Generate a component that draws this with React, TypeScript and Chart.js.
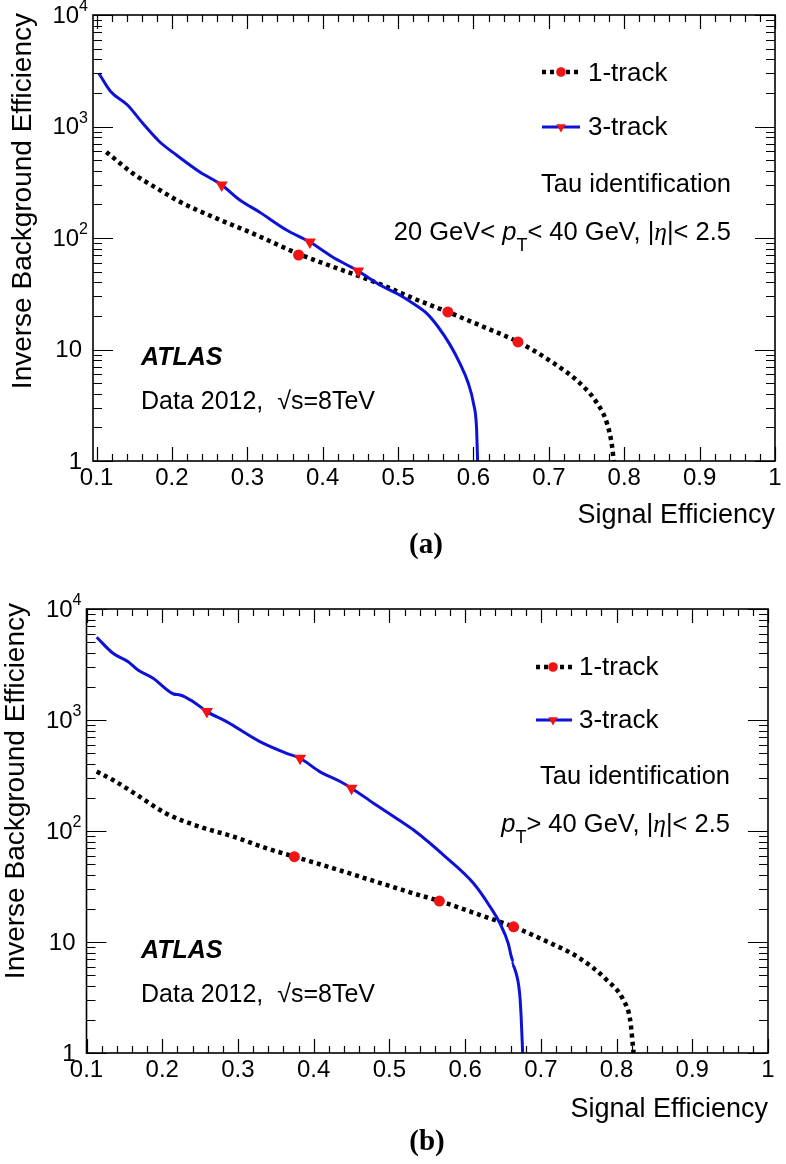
import React, { useEffect, useRef } from 'react';
import { Chart, registerables } from 'chart.js';

Chart.register(...registerables);

const SANS = '"Liberation Sans", Arial, Helvetica, sans-serif';
const SERIF = '"Liberation Serif", "Times New Roman", serif';
const RED = '#f01414';
const BLUE = '#0d12d6';

// ---------------- Panel (a): 20 GeV < pT < 40 GeV ----------------
const sigEffA1 = [0.113, 0.121, 0.148, 0.180, 0.210, 0.259, 0.307, 0.368, 0.413, 0.458, 0.485, 0.520, 0.566, 0.613, 0.659, 0.706, 0.741, 0.764, 0.777, 0.784, 0.786];
const invBkgA1 = [590, 533, 380, 279, 212, 150, 110, 72, 55.4, 43, 36.5, 28.8, 21.7, 16.0, 11.7, 7.57, 5.0, 3.3, 2.19, 1.34, 1.0];
const sigEffA3 = [0.103, 0.119, 0.141, 0.161, 0.184, 0.206, 0.237, 0.266, 0.290, 0.316, 0.352, 0.383, 0.413, 0.447, 0.476, 0.502, 0.520, 0.538, 0.553, 0.569, 0.582, 0.593, 0.600, 0.604, 0.6055];
const invBkgA3 = [3000, 2050, 1560, 1075, 726, 555, 391, 299, 219, 171, 118, 92, 67.6, 50.6, 37.9, 30.8, 25.9, 21.1, 16.0, 11.0, 7.5, 5.0, 3.3, 2.03, 1.0];
const markA1X = [0.368, 0.566, 0.659];
const markA1Y = [70.4, 21.7, 11.7];
const markA3X = [0.266, 0.383, 0.447];
const markA3Y = [299, 92, 50.6];

// ---------------- Panel (b): pT > 40 GeV ----------------
const sigEffB1 = [0.1135, 0.135, 0.170, 0.205, 0.250, 0.294, 0.338, 0.3745, 0.426, 0.479, 0.510, 0.531, 0.566, 0.620, 0.664, 0.708, 0.752, 0.787, 0.809, 0.818, 0.8225];
const invBkgB1 = [343, 288, 204, 144, 109, 89, 69.8, 58.7, 46.1, 35.5, 30.5, 27.5, 23.4, 17.5, 13.7, 10.1, 7.1, 4.55, 3.0, 1.98, 1.0];
const sigEffB3 = [0.1135, 0.135, 0.155, 0.168, 0.188, 0.215, 0.2235, 0.241, 0.259, 0.285, 0.329, 0.364, 0.382, 0.408, 0.435, 0.450, 0.479, 0.512, 0.532, 0.576, 0.611, 0.633, 0.646, 0.657, 0.661, 0.664, 0.662, 0.666, 0.672, 0.674, 0.676];
const invBkgB3 = [5560, 3990, 3350, 2820, 2375, 1715, 1680, 1462, 1190, 966, 638, 501, 452, 343, 279, 243, 178, 126, 102, 57, 33.8, 20.8, 14.7, 9.7, 7.4, 6.6, 6.2, 5.6, 3.45, 2.12, 1.0];
const markB1X = [0.3745, 0.566, 0.664];
const markB1Y = [58.7, 23.4, 13.7];
const markB3X = [0.259, 0.382, 0.450];
const markB3Y = [1190, 452, 243];

// ---------------- Axes ----------------
const xTickValues = [0.1, 0.2, 0.3, 0.4, 0.5, 0.6, 0.7, 0.8, 0.9, 1.0];
const xTickLabels = ['0.1', '0.2', '0.3', '0.4', '0.5', '0.6', '0.7', '0.8', '0.9', '1'];
const yTickValues = [1, 10, 100, 1000, 10000];
const yTickBase = ['1', '10', '10', '10', '10'];
const yTickExp = ['', '', '2', '3', '4'];
const legendLabels = ['1-track', '3-track'];
const xTitle = 'Signal Efficiency';
const yTitle = 'Inverse Background Efficiency';

type Seg = { t: string; s?: 'i' | 'sub' | 'g' };

const kinA: Seg[] = [{ t: '20 GeV< ' }, { t: 'p', s: 'i' }, { t: 'T', s: 'sub' }, { t: '< 40 GeV, |' }, { t: 'η', s: 'g' }, { t: '|< 2.5' }];
const kinB: Seg[] = [{ t: 'p', s: 'i' }, { t: 'T', s: 'sub' }, { t: '> 40 GeV, |' }, { t: 'η', s: 'g' }, { t: '|< 2.5' }];

interface PanelCfg {
  top: number;
  xMin: number;
  padRight: number;
  padTop: number;
  yAxisWidth: number;
  xAxisHeight: number;
  oneX: number[]; oneY: number[];
  threeX: number[]; threeY: number[];
  mk1X: number[]; mk1Y: number[];
  mk3X: number[]; mk3Y: number[];
  legX0: number; legX1: number; legXm: number; legTextX: number;
  legSymY: number[]; legBase: number[];
  textRight: number; tauBase: number; kinBase: number; kin: Seg[];
  atlasX: number; atlasBase: number; dataBase: number;
  xTitleBase: number; yTitleX: number; yTitleEnd: number;
  letter: string; letterX: number; letterBase: number;
}

const panelA: PanelCfg = {
  top: 0, xMin: 0.0953, padRight: 11, padTop: 15, yAxisWidth: 93, xAxisHeight: 121,
  oneX: sigEffA1, oneY: invBkgA1, threeX: sigEffA3, threeY: invBkgA3,
  mk1X: markA1X, mk1Y: markA1Y, mk3X: markA3X, mk3Y: markA3Y,
  legX0: 542, legX1: 580, legXm: 561, legTextX: 588, legSymY: [72, 127], legBase: [81, 135],
  textRight: 731, tauBase: 192, kinBase: 240, kin: kinA,
  atlasX: 141, atlasBase: 365, dataBase: 409,
  xTitleBase: 523, yTitleX: 31, yTitleEnd: 13,
  letter: '(a)', letterX: 426, letterBase: 553,
};

const panelB: PanelCfg = {
  top: 582, xMin: 0.1, padRight: 18, padTop: 27, yAxisWidth: 86.5, xAxisHeight: 111,
  oneX: sigEffB1, oneY: invBkgB1, threeX: sigEffB3, threeY: invBkgB3,
  mk1X: markB1X, mk1Y: markB1Y, mk3X: markB3X, mk3Y: markB3Y,
  legX0: 536, legX1: 572, legXm: 553, legTextX: 579, legSymY: [85, 138], legBase: [93, 146],
  textRight: 730, tauBase: 202, kinBase: 250, kin: kinB,
  atlasX: 141, atlasBase: 376, dataBase: 420,
  xTitleBase: 535, yTitleX: 24, yTitleEnd: 21,
  letter: '(b)', letterX: 427, letterBase: 568,
};

function drawSegs(ctx: CanvasRenderingContext2D, segs: Seg[], x: number, y: number, size: number) {
  const font = (s?: string) =>
    s === 'i' ? `italic ${size}px ${SANS}` :
    s === 'g' ? `italic ${size}px ${SERIF}` :
    s === 'sub' ? `${Math.round(size * 0.72)}px ${SANS}` : `${size}px ${SANS}`;
  const widths = segs.map((sg) => { ctx.font = font(sg.s); return ctx.measureText(sg.t).width; });
  const total = widths.reduce((a, b) => a + b, 0);
  let cx = x - total;
  ctx.textAlign = 'left';
  ctx.textBaseline = 'alphabetic';
  segs.forEach((sg, i) => {
    ctx.font = font(sg.s);
    ctx.fillText(sg.t, cx, sg.s === 'sub' ? y + size * 0.42 : y);
    cx += widths[i];
  });
}

function downTriangle(ctx: CanvasRenderingContext2D, x: number, y: number, r: number) {
  ctx.beginPath();
  ctx.moveTo(x, y + r);
  ctx.lineTo(x - r * 0.866, y - r * 0.5);
  ctx.lineTo(x + r * 0.866, y - r * 0.5);
  ctx.closePath();
  ctx.fill();
}

function decorPlugin(cfg: PanelCfg) {
  return {
    id: 'decor',
    afterDraw(chart: any) {
      const ctx: CanvasRenderingContext2D = chart.ctx;
      const a = chart.chartArea;
      const xs = chart.scales.x;
      const ys = chart.scales.y;
      ctx.save();
      ctx.strokeStyle = '#000';
      ctx.fillStyle = '#000';
      ctx.setLineDash([]);
      // frame
      ctx.lineWidth = 1.6;
      ctx.strokeRect(a.left, a.top, a.right - a.left, a.bottom - a.top);
      // x ticks (bottom and top)
      ctx.lineWidth = 1.2;
      ctx.beginPath();
      for (let i = 0; i <= 50; i++) {
        const v = i * 0.02;
        if (v < xs.min - 1e-9 || v > xs.max + 1e-9) continue;
        const px = Math.round(xs.getPixelForValue(v)) + 0.5;
        const len = i % 5 === 0 ? 14 : 7;
        ctx.moveTo(px, a.bottom); ctx.lineTo(px, a.bottom - len);
        ctx.moveTo(px, a.top); ctx.lineTo(px, a.top + len);
      }
      // y ticks (left and right)
      for (let d = 0; d <= 4; d++) {
        for (let m = 1; m <= 9; m++) {
          const v = m * Math.pow(10, d);
          if (v > 10000) break;
          const py = Math.round(ys.getPixelForValue(v)) + 0.5;
          const len = m === 1 ? 20 : 9;
          ctx.moveTo(a.left, py); ctx.lineTo(a.left + len, py);
          ctx.moveTo(a.right, py); ctx.lineTo(a.right - len, py);
        }
      }
      ctx.stroke();

      // y tick labels
      ctx.textBaseline = 'middle';
      yTickValues.forEach((v, i) => {
        const py = ys.getPixelForValue(v) + 1;
        if (yTickExp[i]) {
          ctx.font = `16px ${SANS}`;
          const ew = ctx.measureText(yTickExp[i]).width;
          const right = a.left - 5;
          ctx.textAlign = 'left';
          ctx.fillText(yTickExp[i], right - ew, py - 9);
          ctx.font = `24px ${SANS}`;
          ctx.textAlign = 'right';
          ctx.fillText(yTickBase[i], right - ew, py);
        } else {
          ctx.font = `24px ${SANS}`;
          ctx.textAlign = 'right';
          ctx.fillText(yTickBase[i], a.left - 11, py);
        }
      });

      // axis titles
      ctx.textBaseline = 'alphabetic';
      ctx.font = `27px ${SANS}`;
      ctx.textAlign = 'right';
      ctx.fillText(xTitle, a.right, cfg.xTitleBase);
      ctx.save();
      ctx.translate(cfg.yTitleX, cfg.yTitleEnd);
      ctx.rotate(-Math.PI / 2);
      ctx.font = `28px ${SANS}`;
      ctx.textAlign = 'right';
      ctx.fillText(yTitle, 0, 0);
      ctx.restore();

      // legend
      const y1 = cfg.legSymY[0];
      ctx.strokeStyle = '#000';
      ctx.lineWidth = 4.5;
      ctx.setLineDash([4, 4]);
      ctx.beginPath(); ctx.moveTo(cfg.legX0, y1); ctx.lineTo(cfg.legX1, y1); ctx.stroke();
      ctx.setLineDash([]);
      ctx.fillStyle = RED;
      ctx.beginPath(); ctx.arc(cfg.legXm, y1, 4.8, 0, Math.PI * 2); ctx.fill();
      const y3 = cfg.legSymY[1];
      ctx.strokeStyle = BLUE;
      ctx.lineWidth = 3;
      ctx.beginPath(); ctx.moveTo(cfg.legX0, y3); ctx.lineTo(cfg.legX1, y3); ctx.stroke();
      ctx.fillStyle = RED;
      downTriangle(ctx, cfg.legXm, y3, 5.5);
      ctx.fillStyle = '#000';
      ctx.font = `26px ${SANS}`;
      ctx.textAlign = 'left';
      ctx.fillText(legendLabels[0], cfg.legTextX, cfg.legBase[0]);
      ctx.fillText(legendLabels[1], cfg.legTextX, cfg.legBase[1]);

      // annotations
      ctx.font = `25.5px ${SANS}`;
      ctx.textAlign = 'right';
      ctx.fillText('Tau identification', cfg.textRight, cfg.tauBase);
      drawSegs(ctx, cfg.kin, cfg.textRight, cfg.kinBase, 25.5);
      ctx.textAlign = 'left';
      ctx.font = `italic bold 25px ${SANS}`;
      ctx.fillText('ATLAS', cfg.atlasX, cfg.atlasBase);
      ctx.font = `25px ${SANS}`;
      ctx.fillText('Data 2012,  \u221As=8TeV', cfg.atlasX, cfg.dataBase);

      // panel letter
      ctx.font = `bold 29px ${SERIF}`;
      ctx.textAlign = 'center';
      ctx.fillText(cfg.letter, cfg.letterX, cfg.letterBase);
      ctx.restore();
    },
  };
}

const toPts = (xs: number[], ys: number[]) => xs.map((x, i) => ({ x, y: ys[i] }));

function Panel({ cfg }: { cfg: PanelCfg }) {
  const ref = useRef<HTMLCanvasElement>(null);
  useEffect(() => {
    const canvas = ref.current!;
    const chart = new Chart(canvas, {
      type: 'scatter',
      data: {
        datasets: [
          {
            label: '1-track markers', data: toPts(cfg.mk1X, cfg.mk1Y), showLine: false,
            pointStyle: 'circle', pointRadius: 5.5, pointBackgroundColor: RED, pointBorderWidth: 0, pointBorderColor: RED,
          },
          {
            label: '3-track markers', data: toPts(cfg.mk3X, cfg.mk3Y), showLine: false,
            pointStyle: 'triangle', pointRotation: 180, pointRadius: 7, pointBackgroundColor: RED, pointBorderWidth: 0, pointBorderColor: RED,
          },
          {
            label: legendLabels[1], data: toPts(cfg.threeX, cfg.threeY), showLine: true,
            borderColor: BLUE, borderWidth: 3, pointRadius: 0, cubicInterpolationMode: 'monotone',
          },
          {
            label: legendLabels[0], data: toPts(cfg.oneX, cfg.oneY), showLine: true,
            borderColor: '#000', borderWidth: 4.5, borderDash: [4, 4], borderCapStyle: 'butt', pointRadius: 0, cubicInterpolationMode: 'monotone',
          },
        ] as any,
      },
      options: {
        responsive: false,
        animation: false,
        events: [],
        layout: { padding: { left: 0, right: cfg.padRight, top: cfg.padTop, bottom: 0 } },
        plugins: { legend: { display: false }, tooltip: { enabled: false }, title: { display: false } },
        scales: {
          x: {
            type: 'linear', min: cfg.xMin, max: 1,
            grid: { display: false, drawTicks: false },
            border: { display: false },
            afterBuildTicks: (s: any) => { s.ticks = xTickValues.map((v) => ({ value: v })); },
            afterFit: (s: any) => { s.height = cfg.xAxisHeight; },
            ticks: {
              autoSkip: false, maxRotation: 0, minRotation: 0, padding: 3, color: '#000',
              font: { family: SANS, size: 24 },
              callback: (_v: any, i: number) => xTickLabels[i],
            },
          },
          y: {
            type: 'logarithmic', min: 1, max: 10000,
            grid: { display: false, drawTicks: false },
            border: { display: false },
            ticks: { display: false },
            afterFit: (s: any) => { s.width = cfg.yAxisWidth; },
          },
        },
      } as any,
      plugins: [decorPlugin(cfg)],
    });
    return () => chart.destroy();
  }, [cfg]);
  return (
    <canvas
      ref={ref}
      width={786}
      height={582}
      style={{ position: 'absolute', left: 0, top: cfg.top, width: 786, height: 582, display: 'block' }}
    />
  );
}

export default function App() {
  return (
    <div style={{ position: 'absolute', left: 0, top: 0, width: 786, height: 1164, background: '#fff' }}>
      <Panel cfg={panelA} />
      <Panel cfg={panelB} />
    </div>
  );
}
